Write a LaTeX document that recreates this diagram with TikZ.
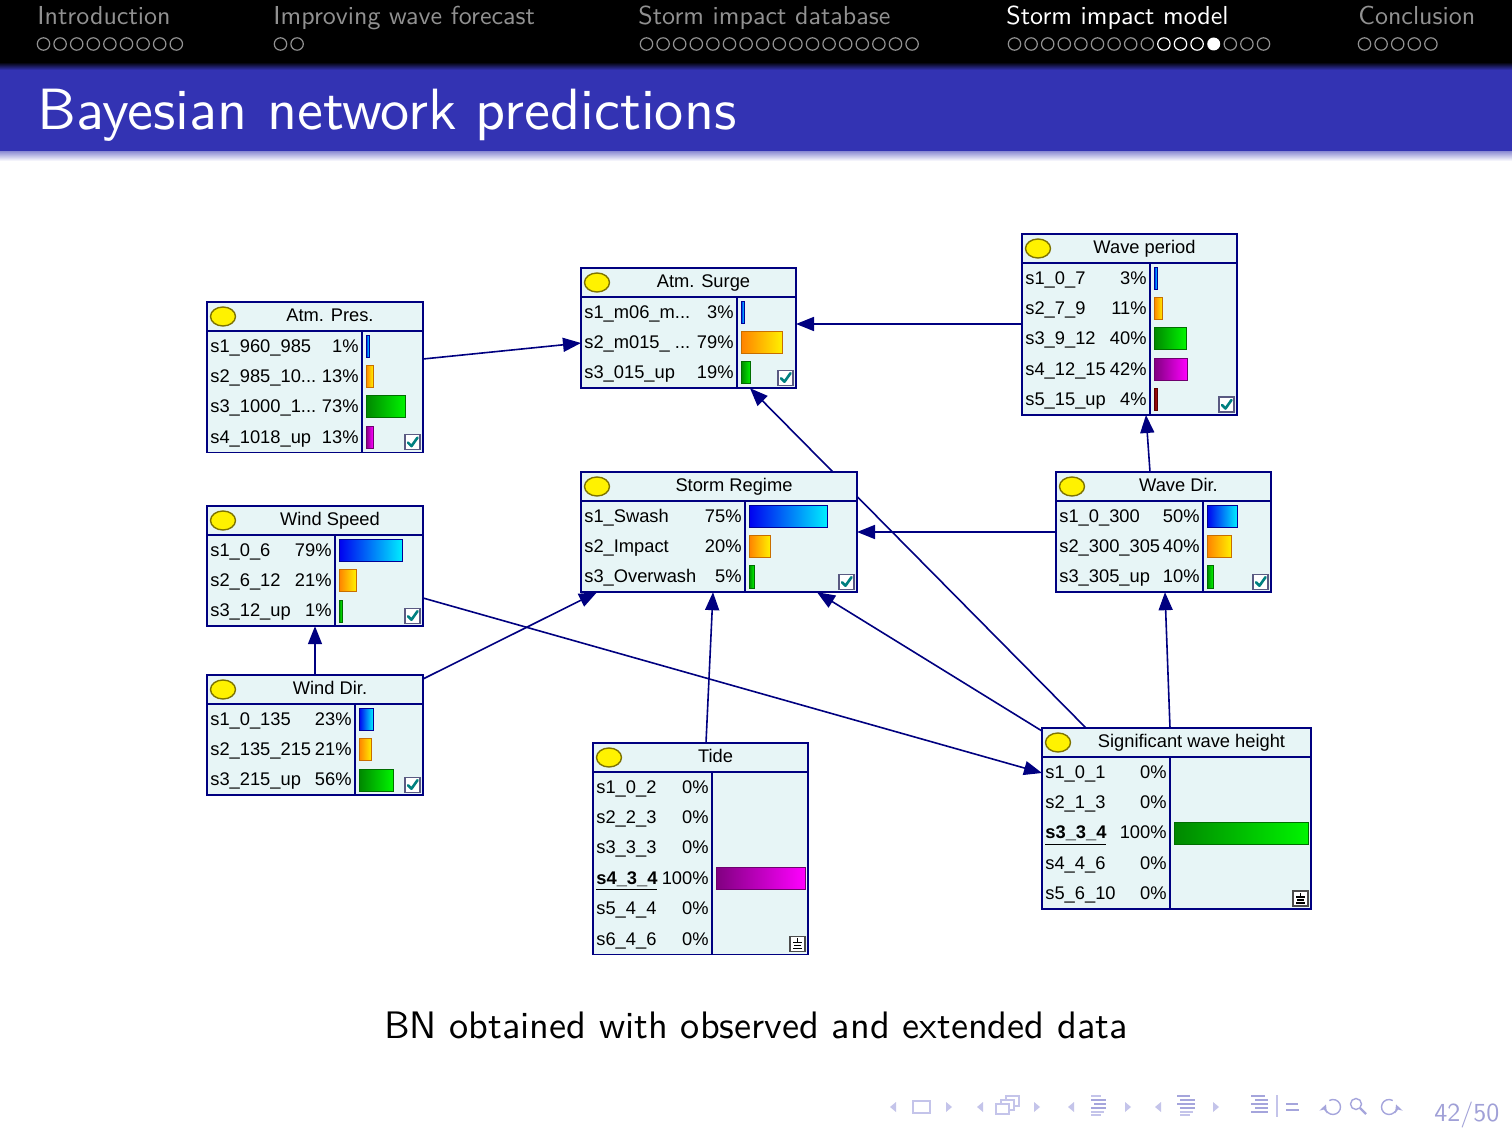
\documentclass[tikz,border=0pt]{standalone}
\usepackage{fontspec}
\newfontfamily\bnfont{Liberation Sans}
\newfontfamily\slidefont{lmsans10-regular.otf}
\usetikzlibrary{arrows.meta,calc}
\definecolor{navy}{RGB}{0,0,128}
\definecolor{nodebg}{RGB}{231,245,246}
\definecolor{headblue}{RGB}{51,51,179}
\definecolor{headgray}{RGB}{145,145,145}
\definecolor{navc}{RGB}{196,196,234}
\definecolor{navm}{RGB}{165,165,220}
\definecolor{navd}{RGB}{160,160,215}
\definecolor{checkteal}{RGB}{0,128,128}
\pgfdeclarelayer{back}
\pgfdeclarelayer{bg}
\pgfsetlayers{back,bg,main}
\newcommand\bndots{...}
\tikzset{
  bnframe/.style={draw=navy, fill=nodebg, line width=0.9pt, inner sep=0pt, outer sep=0pt, anchor=north west},
  bnline/.style={draw=navy, line width=0.6pt},
  bntext/.style={font=\bnfont\fontsize{9.15}{11}\selectfont, inner sep=0pt, text=black},
  bnarrow/.style={draw=navy, line width=0.8pt, -{Triangle[length=9pt,width=7pt]}},
  headtext/.style={font=\slidefont\fontsize{13}{15}\selectfont, inner sep=0pt, anchor=base west},
  dot/.style={line width=0.6pt},
  navtri/.style={fill=navc},
}
% tick box in the lower right corner of a node
\newcommand\bncheck[2]{%
  \draw[draw={rgb,255:red,90;green,90;blue,130}, fill=white, line width=0.6pt] (#1-18,#2-18) rectangle (#1-3,#2-3);
  \draw[checkteal, line width=1.3pt, line cap=round, line join=round] (#1-15,#2-10) -- (#1-11.5,#2-6.5) -- (#1-5.5,#2-15);
}
% evidence box in the lower right corner of a node
\newcommand\bnground[2]{%
  \draw[draw=black!70, fill=white, line width=0.6pt] (#1-18,#2-18) rectangle (#1-3,#2-3);
  \draw[black, line width=0.6pt] (#1-10.5,#2-16) -- (#1-10.5,#2-12)
     (#1-15,#2-12) -- (#1-6,#2-12)
     (#1-14,#2-9) -- (#1-7,#2-9)
     (#1-15,#2-6) -- (#1-6,#2-6);
}
% #1 name, #2 x, #3 y, #4 width, #5 divider, #6 rows, #7 title, #8 states, #9 corner icon
\newcommand\bnnode[9]{%
  \pgfmathsetmacro\bnh{29+30.4*#6}%
  \node[bnframe, minimum width=#4*0.5pt, minimum height=\bnh*0.5pt] (#1) at (#2,#3) {};
  \begin{scope}[shift={(#2,#3)}]
    \draw[bnline] (0,29) -- (#4,29);
    \draw[bnline] (#5,29) -- (#5,\bnh);
    \draw[fill=yellow, draw={rgb,255:red,125;green,115;blue,0}, line width=0.7pt] (16,14.5) ellipse [x radius=12.5, y radius=9.5];
    \node[bntext, anchor=base] at ({(30+#4)/2},19.8) {#7};
    \foreach \lab/\pct/\col [count=\i] in {#8} {
      \pgfmathsetmacro\cy{44.2+30.4*(\i-1)}
      \node[bntext, anchor=base west] at (3,\cy+5.9) {\lab};
      \node[bntext, anchor=base east] at (#5-3,\cy+5.9) {\pct\%};
      \ifnum\pct>0
        \ifcase\col\or
          \colorlet{bl}{rgb,255:red,0;green,0;blue,240}\colorlet{br}{rgb,255:red,0;green,240;blue,255}\colorlet{bd}{rgb,255:red,0;green,0;blue,150}\or
          \colorlet{bl}{rgb,255:red,255;green,130;blue,0}\colorlet{br}{rgb,255:red,255;green,240;blue,0}\colorlet{bd}{rgb,255:red,200;green,110;blue,0}\or
          \colorlet{bl}{rgb,255:red,0;green,135;blue,0}\colorlet{br}{rgb,255:red,0;green,245;blue,0}\colorlet{bd}{rgb,255:red,0;green,110;blue,0}\or
          \colorlet{bl}{rgb,255:red,128;green,0;blue,128}\colorlet{br}{rgb,255:red,255;green,0;blue,255}\colorlet{bd}{rgb,255:red,110;green,0;blue,110}\or
          \colorlet{bl}{rgb,255:red,120;green,0;blue,0}\colorlet{br}{rgb,255:red,175;green,20;blue,20}\colorlet{bd}{rgb,255:red,90;green,0;blue,0}\fi
        \pgfmathsetmacro\blen{max(3,\pct/100*(#4-#5-7))}
        \path[left color=bl, right color=br, draw=bd, line width=0.5pt] (#5+4,\cy-11) rectangle (#5+4+\blen,\cy+11);
      \fi
    }
    #9{#4}{\bnh}
  \end{scope}
}
\begin{document}
\begin{tikzpicture}[x=0.5pt,y=-0.5pt]
\useasboundingbox (0,0) rectangle (1512,1134);
\begin{pgfonlayer}{back}
  \fill[white] (0,0) rectangle (1512,1134);
\end{pgfonlayer}

% head line with sections and frame dots
\fill[black] (0,0) rectangle (1512,62);
\shade[top color=black, bottom color=headblue] (0,62) rectangle (1512,70);
\fill[headblue] (0,70) rectangle (1512,152);
\shade[top color={rgb,255:red,150;green,150;blue,215}, bottom color=white] (0,152) rectangle (1512,161);

\node[headtext, text=headgray] (s1) at (37,25) {Introduction};
\node[headtext, text=headgray] (s2) at (273,25) {Improving wave forecast};
\node[headtext, text=headgray] (s3) at (638,25) {Storm impact database};
\node[headtext, text=white] (s4) at (1006,25) {Storm impact model};
\node[headtext, text=headgray] (s5) at (1358,25) {Conclusion};

\foreach \k in {0,...,8} \draw[dot, headgray] (43.5+16.6*\k,44) circle [radius=6.2];
\foreach \k in {0,1} \draw[dot, headgray] (280.5+16.6*\k,44) circle [radius=6.2];
\foreach \k in {0,...,16} \draw[dot, headgray] (646.5+16.6*\k,44) circle [radius=6.2];
\foreach \k in {0,...,8,13,14,15} \draw[dot, headgray] (1014.5+16.6*\k,44) circle [radius=6.2];
\foreach \k in {9,10,11} \draw[dot, white] (1014.5+16.6*\k,44) circle [radius=6.2];
\fill[white] (1014.5+16.6*12,44) circle [radius=6.5];
\foreach \k in {0,...,4} \draw[dot, headgray] (1364.5+16.6*\k,44) circle [radius=6.2];

\node[anchor=base west, text=white, font=\slidefont\fontsize{29.1}{32}\selectfont, inner sep=0pt] (title) at (37,130) {Bayesian network predictions};

% network nodes
\bnnode{ap}{207}{302}{216}{155}{4}{Atm. Pres.}{s1\_960\_985/1/1, s2\_985\_10\bndots/13/2, s3\_1000\_1\bndots/73/3, s4\_1018\_up/13/4}{\bncheck}
\bnnode{as}{581}{268}{215}{156}{3}{Atm. Surge}{s1\_m06\_m\bndots/3/1, s2\_m015\_ \bndots/79/2, s3\_015\_up/19/3}{\bncheck}
\bnnode{wp}{1022}{234}{215}{128}{5}{Wave period}{s1\_0\_7/3/1, s2\_7\_9/11/2, s3\_9\_12/40/3, s4\_12\_15/42/4, s5\_15\_up/4/5}{\bncheck}
\bnnode{sr}{581}{472}{276}{164}{3}{Storm Regime}{s1\_Swash/75/1, s2\_Impact/20/2, s3\_Overwash/5/3}{\bncheck}
\bnnode{ws}{207}{506}{216}{128}{3}{Wind Speed}{s1\_0\_6/79/1, s2\_6\_12/21/2, s3\_12\_up/1/3}{\bncheck}
\bnnode{wd}{207}{675}{216}{148}{3}{Wind Dir.}{s1\_0\_135/23/1, s2\_135\_215/21/2, s3\_215\_up/56/3}{\bncheck}
\bnnode{wv}{1056}{472}{215}{147}{3}{Wave Dir.}{s1\_0\_300/50/1, s2\_300\_305/40/2, s3\_305\_up/10/3}{\bncheck}
\bnnode{td}{593}{743}{215}{119}{6}{Tide}{s1\_0\_2/0/1, s2\_2\_3/0/2, s3\_3\_3/0/3, {\textbf{\underline{s4\_3\_4}}}/100/4, s5\_4\_4/0/5, s6\_4\_6/0/6}{\bnground}
\bnnode{hs}{1042}{728}{269}{128}{5}{Significant wave height}{s1\_0\_1/0/1, s2\_1\_3/0/2, {\textbf{\underline{s3\_3\_4}}}/100/3, s4\_4\_6/0/4, s5\_6\_10/0/5}{\bnground}

% connectors, kept behind the nodes
\begin{pgfonlayer}{bg}
  \draw[bnarrow] ($(ap.north east)+(0,57)$) -- ($(as.north west)+(0,75)$);
  \draw[bnarrow] ($(wp.north west)+(0,90)$) -- ($(as.north east)+(0,56)$);
  \draw[bnarrow] ($(hs.north west)+(44,0)$) -- ($(as.south west)+(169,0)$);
  \draw[bnarrow] ($(wv.north west)+(94,0)$) -- ($(wp.south west)+(124,0)$);
  \draw[bnarrow] ($(wv.north west)+(0,60)$) -- ($(sr.north east)+(0,60)$);
  \draw[bnarrow] ($(wd.north west)+(108,0)$) -- ($(ws.south west)+(108,0)$);
  \draw[bnarrow] ($(wd.north east)+(0,4)$) -- ($(sr.south west)+(16,0)$);
  \draw[bnarrow] ($(ws.north east)+(0,92)$) -- ($(hs.north west)+(0,45)$);
  \draw[bnarrow] ($(td.north west)+(113,0)$) -- ($(sr.south west)+(132,0)$);
  \draw[bnarrow] ($(hs.north west)+(0,3)$) -- ($(sr.south west)+(236,0)$);
  \draw[bnarrow] ($(hs.north west)+(128,0)$) -- ($(wv.south west)+(109,0)$);
\end{pgfonlayer}

\node[anchor=base, font=\slidefont\fontsize{19.15}{22}\selectfont, inner sep=0pt] (caption) at (756,1038) {BN obtained with observed and extended data};

% navigation symbols
\begin{scope}[navc, line width=0.7pt]
  % frame
  \fill[navtri] (896,1102) -- (890,1107) -- (896,1112) -- cycle;
  \draw (913,1101) rectangle (930,1113);
  \fill[navtri] (946,1102) -- (952,1107) -- (946,1112) -- cycle;
  % subsection
  \fill[navtri] (983,1102) -- (977,1107) -- (983,1112) -- cycle;
  \draw[fill=white] (1006,1096) rectangle (1019,1106);
  \draw[fill=white] (1001,1100) rectangle (1014,1110);
  \draw[fill=white] (996,1104) rectangle (1009,1114);
  \fill[navtri] (1034,1102) -- (1040,1107) -- (1034,1112) -- cycle;
  % section
  \fill[navtri] (1074,1102) -- (1068,1107) -- (1074,1112) -- cycle;
  \draw (1091,1096) -- (1101,1096) (1091,1112) -- (1104,1112) (1091,1115) -- (1101,1115);
  \draw[navm] (1091,1100) -- (1106,1100) (1094,1104) -- (1106,1104) (1091,1108) -- (1106,1108);
  \fill[navtri] (1125,1102) -- (1131,1107) -- (1125,1112) -- cycle;
  \fill[navtri] (1161,1102) -- (1155,1107) -- (1161,1112) -- cycle;
  \draw (1180,1112) -- (1193,1112) (1180,1115) -- (1190,1115);
  \draw[navm] (1177,1096) -- (1190,1096) (1180,1100) -- (1195,1100) (1177,1104) -- (1195,1104) (1180,1108) -- (1195,1108);
  \fill[navtri] (1213,1102) -- (1219,1107) -- (1213,1112) -- cycle;
  % document
  \draw[navm] (1251,1096) -- (1265,1096) (1255,1100) -- (1268,1100) (1251,1104) -- (1268,1104) (1255,1108) -- (1268,1108) (1251,1112) -- (1268,1112);
  \draw (1277,1095) -- (1277,1117);
  \draw[navm] (1286,1104) -- (1298,1104) (1286,1110) -- (1299,1110);
  % back, search, forward
  \draw[navm, {Stealth[length=4pt,width=4pt]}-] (1325.95,1104.43) arc [start angle=200, end angle=-120, radius=7.5];
  \draw[navm] (1356,1104) circle [radius=5.5];
  \draw[navm, line width=1.1pt] (1360,1108) -- (1366,1114);
  \draw[navm, {Stealth[length=4pt,width=4pt]}-] (1396.05,1104.43) arc [start angle=-20, end angle=300, radius=7.5];
\end{scope}
\node[anchor=base west, text=navd, font=\slidefont\fontsize{13}{15}\selectfont, inner sep=0pt] (pageno) at (1434,1121) {42/50};
\end{tikzpicture}
\end{document}
